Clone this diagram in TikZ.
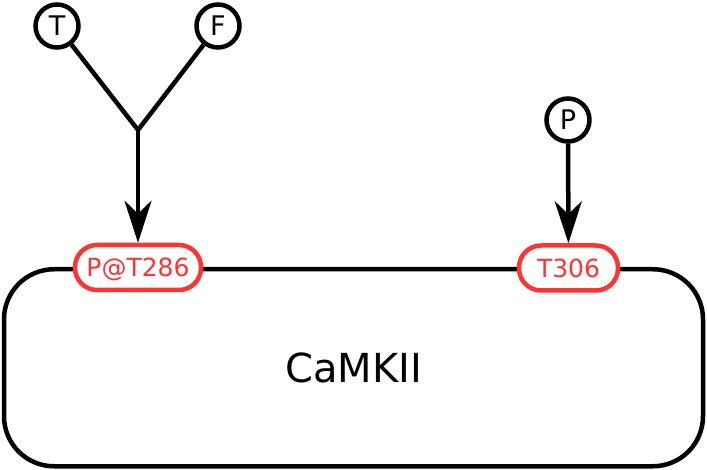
\documentclass[tikz,border=0pt]{standalone}
\usepackage{fontspec}
\setmainfont{DejaVu Sans}
\usetikzlibrary{arrows.meta}
\definecolor{siteRed}{RGB}{255,51,51}

\begin{document}
\begin{tikzpicture}[%
			x=1pt, y=-1pt,
			line width=4.5pt,
			font=\fontsize{27}{32}\selectfont,
			>={Stealth[length=42pt,width=27pt,inset=13pt]},
			site/.style={%
				draw=siteRed,
				text=siteRed,
				fill=white,
				font=\fontsize{25}{30}\selectfont,
				rounded corners=22pt,
				minimum height=45pt,
				text depth=0pt,
				inner sep=0pt
			},
			mod/.style={%
				circle,
				draw,
				fill=white,
				minimum size=43pt,
				inner sep=0pt
			}
			]
			\useasboundingbox (0,0) rectangle (707,470);
			\node[draw, rounded corners=50pt, minimum width=699pt, minimum height=197pt,
				font=\fontsize{40}{48}\selectfont] (camkii) at (353.5,367.75) {CaMKII};
			\node[site, minimum width=126pt] (t286) at (138,267.5) {P@T286};
			\node[site, minimum width=99pt] (t306) at (568.5,268) {T306};
			\node[mod] (t) at (57,26) {T};
			\node[mod] (f) at (218,26) {F};
			\node[mod] (p) at (568,120) {P};
			\coordinate (join) at (138,130);

			\draw (t) -- (join) -- (f);
			\draw[->] (join) -- (t286);
			\draw[->] (p) -- (t306);
\end{tikzpicture}
\end{document}
